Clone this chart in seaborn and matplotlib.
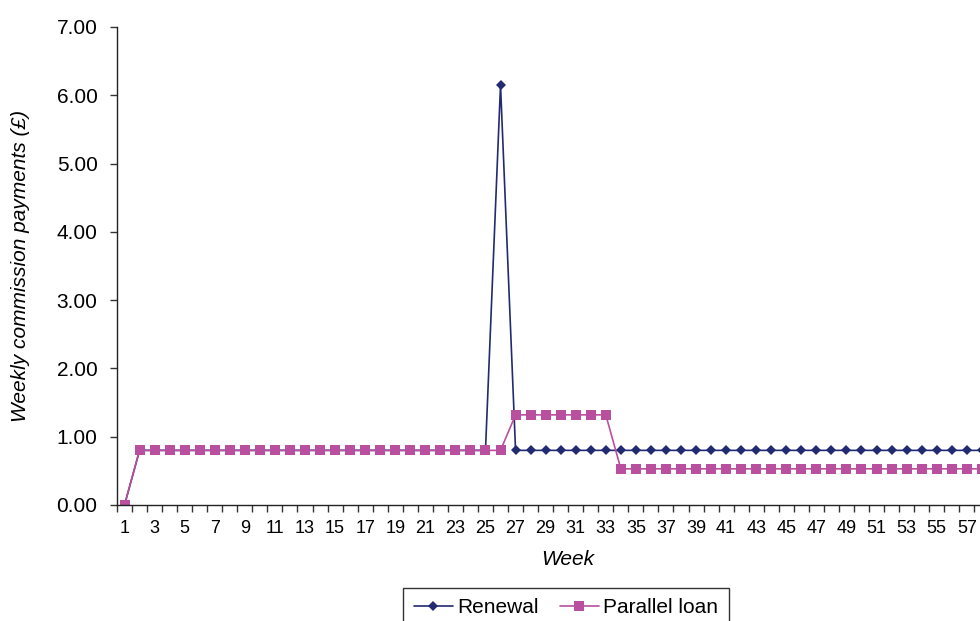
import numpy as np
import pandas as pd
import matplotlib
matplotlib.use("Agg")
import matplotlib.pyplot as plt
import seaborn as sns

weeks = list(range(1, 61))
renewal = [0.0] + [0.80] * 24 + [6.15] + [0.80] * 34
parallel_loan = [0.0] + [0.80] * 25 + [1.32] * 7 + [0.53] * 27

df = pd.DataFrame({
    "Week": weeks * 2,
    "Value": renewal + parallel_loan,
    "Series": ["Renewal"] * len(weeks) + ["Parallel loan"] * len(weeks),
})

sns.set_style("white")
plt.rcParams["font.family"] = ["Liberation Sans", "DejaVu Sans"]
plt.rcParams["text.color"] = "black"
plt.rcParams["axes.labelcolor"] = "black"
plt.rcParams["xtick.color"] = "black"
plt.rcParams["ytick.color"] = "black"

fig = plt.figure(figsize=(9.8, 6.21), dpi=100)
ax = fig.add_axes([117 / 980, 116 / 621, 60 * 15.04 / 980, 478 / 621])

navy = "#222A72"
pink = "#B8509F"

sns.lineplot(data=df[df.Series == "Renewal"], x="Week", y="Value", ax=ax,
             color=navy, marker="D", markersize=5.5, markeredgewidth=0,
             linewidth=1.2, label="Renewal")
sns.lineplot(data=df[df.Series == "Parallel loan"], x="Week", y="Value", ax=ax,
             color=pink, marker="s", markersize=7, markeredgewidth=0,
             linewidth=1.2, label="Parallel loan")

ax.set_xlim(0.5, 60.5)
ax.set_ylim(0, 7)
ax.set_yticks(np.arange(0, 8, 1))
ax.set_yticklabels([f"{v:.2f}" for v in range(8)], fontsize=15)

ax.set_xticks(np.arange(0.5, 61, 1))
ax.set_xticklabels([])
ax.set_xticks(weeks[::2], minor=True)
ax.set_xticklabels([str(w) for w in weeks[::2]], minor=True, fontsize=13)
ax.tick_params(axis="x", which="major", bottom=True, length=5, width=1,
               color="#333333", direction="out")
ax.tick_params(axis="x", which="minor", bottom=True, length=0, pad=11)
ax.tick_params(axis="y", left=True, length=5, width=1, color="#333333",
               direction="out", pad=9)

for s in ["top", "right"]:
    ax.spines[s].set_visible(False)
for s in ["left", "bottom"]:
    ax.spines[s].set_color("#222222")
    ax.spines[s].set_linewidth(1)

ax.set_xlabel("Week", fontsize=15, style="italic", labelpad=9)
ax.set_ylabel("Weekly commission payments (£)", fontsize=15, style="italic", labelpad=19)

handles, labels = ax.get_legend_handles_labels()
ax.get_legend().remove()
leg = fig.legend(handles, labels, loc="upper center",
                 bbox_to_anchor=(566 / 980, 1 - 588 / 621),
                 ncol=2, fontsize=15, frameon=True, fancybox=False, framealpha=1,
                 edgecolor="#333333", handlelength=1.9, handletextpad=0.2,
                 columnspacing=1.0, borderpad=0.5, borderaxespad=0)
leg.get_frame().set_linewidth(1)

fig.savefig("out.png", dpi=100)
